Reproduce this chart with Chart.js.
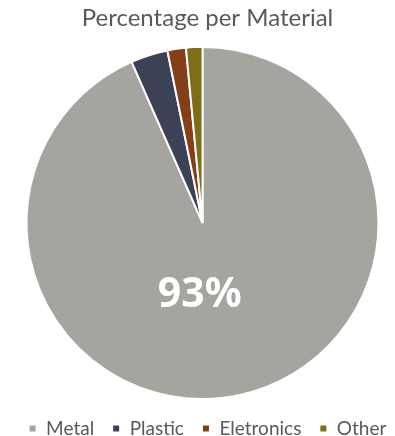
<!DOCTYPE html>
<html>
<head>
<meta charset="utf-8">
<script src="https://cdn.jsdelivr.net/npm/chart.js@4"></script>
<style>
  html, body { margin: 0; padding: 0; background: #fff; }
  #wrap { width: 395px; height: 436px; }
</style>
</head>
<body>
<div id="wrap"><canvas id="myChart" width="395" height="436"></canvas></div>
<script>
const materials = ['Metal', 'Plastic', 'Eletronics', 'Other'];
const percentages = [93.4, 3.4, 1.7, 1.5];
const sliceColors = ['#A5A5A0', '#3B4256', '#843F16', '#7E6D17'];
const shownLabels = ['93%', '', '', ''];

// write the big percentage inside the Metal slice
const sliceLabels = {
  id: 'sliceLabels',
  afterDatasetsDraw(chart) {
    const ctx = chart.ctx;
    const arcs = chart.getDatasetMeta(0).data;
    ctx.save();
    ctx.fillStyle = '#ffffff';
    ctx.font = 'bold 41px "Noto Sans"';
    ctx.textAlign = 'center';
    ctx.textBaseline = 'middle';
    arcs.forEach((arc, i) => {
      if (!shownLabels[i]) return;
      const p = arc.getProps(['x', 'y', 'startAngle', 'endAngle', 'outerRadius']);
      const mid = (p.startAngle + p.endAngle) / 2;
      const r = p.outerRadius * 0.42;
      ctx.fillText(shownLabels[i], p.x + Math.cos(mid) * r - 18, p.y + Math.sin(mid) * r);
    });
    ctx.restore();
  }
};

const ctx = document.getElementById('myChart').getContext('2d');
new Chart(ctx, {
  type: 'pie',
  data: {
    labels: materials,
    datasets: [{
      data: percentages,
      backgroundColor: sliceColors,
      borderColor: '#ffffff',
      borderWidth: 2,
      radius: 176
    }]
  },
  options: {
    responsive: false,
    animation: false,
    layout: { padding: { top: 0, bottom: -12, left: 10, right: -10 } },
    plugins: {
      title: {
        display: true,
        text: 'Percentage per Material',
        color: '#595959',
        font: { family: 'Lato', size: 24, weight: 'normal' },
        padding: { top: 4, bottom: 12 }
      },
      legend: {
        position: 'bottom',
        labels: {
          color: '#595959',
          font: { family: 'Lato', size: 19 },
          boxWidth: 8,
          boxHeight: 8,
          padding: 18
        }
      },
      tooltip: { enabled: false }
    }
  },
  plugins: [sliceLabels]
});
</script>
</body>
</html>
